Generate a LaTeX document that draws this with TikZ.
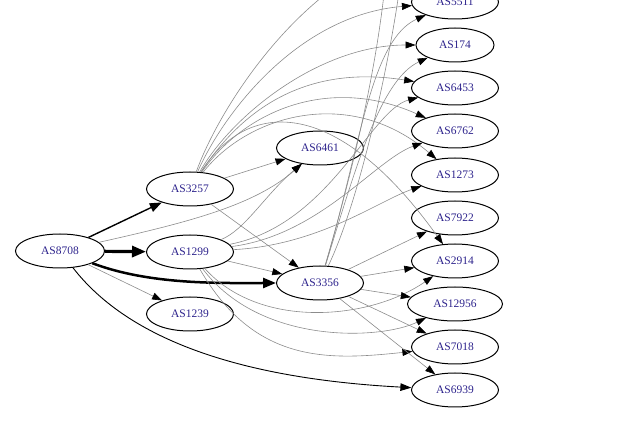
\documentclass[tikz,border=0pt]{standalone}
\usepackage{fontspec}
\setmainfont{Liberation Serif}
\usetikzlibrary{shapes.geometric,arrows.meta}
\definecolor{labelblue}{RGB}{45,35,140}
\definecolor{edgegray}{RGB}{140,140,140}
\begin{document}
\begin{tikzpicture}[x=1pt,y=-1pt,
  asnode/.style={ellipse,draw,line width=1pt,minimum width=87pt,minimum height=34pt,inner sep=0pt,text=labelblue,font=\fontsize{11.5}{13}\selectfont},
  grayedge/.style={draw=edgegray,line width=0.6pt,-{Triangle[length=10pt,width=7pt,color=black]}},
  blackedge/.style={draw=black,line width=0.9pt,-{Triangle[length=11pt,width=7.5pt]}}
]
\useasboundingbox (0,0) rectangle (633,422);

% nodes
\node[asnode,minimum width=89pt] (n8708) at (60,251) {AS8708};
\node[asnode] (n3257) at (190,189) {AS3257};
\node[asnode] (n1299) at (190,252) {AS1299};
\node[asnode] (n1239) at (190,314) {AS1239};
\node[asnode] (n6461) at (320,148) {AS6461};
\node[asnode] (n3356) at (320,283) {AS3356};
\node[asnode] (n5511) at (455,2) {AS5511};
\node[asnode,minimum width=78pt] (n174) at (455,45) {AS174};
\node[asnode] (n6453) at (455,88) {AS6453};
\node[asnode] (n6762) at (455,131) {AS6762};
\node[asnode] (n1273) at (455,175) {AS1273};
\node[asnode] (n7922) at (455,218) {AS7922};
\node[asnode] (n2914) at (455,261) {AS2914};
\node[asnode,minimum width=95pt] (n12956) at (455,304) {AS12956};
\node[asnode] (n7018) at (455,347) {AS7018};
\node[asnode] (n6939) at (455,390) {AS6939};

\coordinate (ot1) at (345,-20);
\coordinate (ot2) at (385,-15);
\coordinate (ot3) at (400,-15);

% AS8708 edges
\draw[draw=black,line width=1.4pt,-{Triangle[length=12pt,width=9pt]}] (n8708) -- (n3257);
\draw[draw=black,line width=3.2pt,-{Triangle[length=14pt,width=11pt]}] (n8708) -- (n1299);
\draw[draw=black,line width=2.5pt,-{Triangle[length=13pt,width=10pt]}] (n8708) .. controls (150,285) and (220,283) .. (n3356);
\draw[grayedge] (n8708) -- (n1239);
\draw[blackedge] (n8708) .. controls (125,335) and (230,378) .. (n6939);
\draw[grayedge] (n8708) .. controls (190,222) and (255,205) .. (n6461);

% AS3257 edges
\draw[grayedge] (n3257) -- (n6461);
\draw[grayedge] (n3257) -- (n3356);
\draw[draw=edgegray,line width=0.6pt] (n3257) .. controls (215,120) and (270,30) .. (ot1);
\draw[grayedge] (n3257) .. controls (225,110) and (300,15) .. (n5511);
\draw[grayedge] (n3257) .. controls (232,115) and (320,45) .. (n174);
\draw[grayedge] (n3257) .. controls (245,105) and (310,65) .. (n6453);
\draw[grayedge] (n3257) .. controls (245,110) and (330,75) .. (n6762);
\draw[grayedge] (n3257) .. controls (248,115) and (350,85) .. (n1273);
\draw[grayedge] (n3257) .. controls (250,95) and (340,100) .. (n2914);

% AS1299 edges
\draw[grayedge] (n1299) .. controls (245,230) and (265,195) .. (n6461);
\draw[grayedge] (n1299) -- (n3356);
\draw[grayedge] (n1299) .. controls (330,225) and (370,110) .. (n6453);
\draw[grayedge] (n1299) .. controls (320,235) and (375,160) .. (n6762);
\draw[grayedge] (n1299) .. controls (320,245) and (380,200) .. (n1273);
\draw[grayedge] (n1299) .. controls (260,330) and (370,320) .. (n2914);
\draw[grayedge] (n1299) .. controls (260,345) and (380,340) .. (n12956);
\draw[grayedge] (n1299) .. controls (255,365) and (330,360) .. (n7018);

% AS3356 edges
\draw[grayedge] (n3356) .. controls (360,150) and (370,40) .. (n5511);
\draw[grayedge] (n3356) .. controls (355,170) and (380,80) .. (n174);
\draw[draw=edgegray,line width=0.6pt] (n3356) .. controls (350,180) and (375,80) .. (ot2);
\draw[draw=edgegray,line width=0.6pt] (n3356) .. controls (360,200) and (390,60) .. (ot3);
\draw[grayedge] (n3356) -- (n7922);
\draw[grayedge] (n3356) -- (n2914);
\draw[grayedge] (n3356) -- (n12956);
\draw[grayedge] (n3356) -- (n7018);
\draw[grayedge] (n3356) -- (n6939);
\end{tikzpicture}
\end{document}
